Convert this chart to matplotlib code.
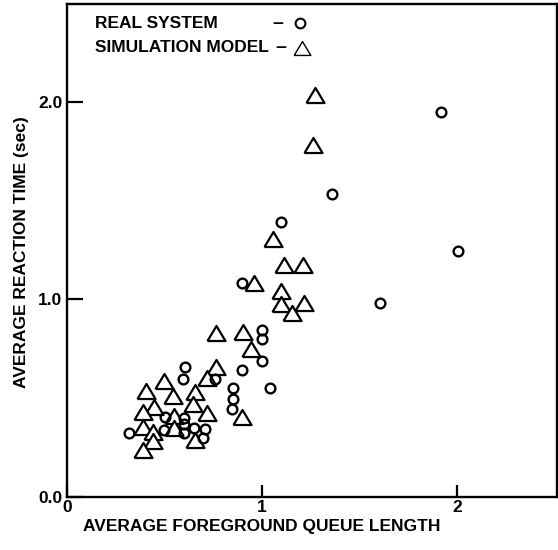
import matplotlib
matplotlib.use("Agg")
import matplotlib.pyplot as plt

# real system measurements (circles)
real_x = [1.918, 2.005, 1.359, 1.097, 1.605, 0.897, 1.000, 1.000, 1.000, 0.605,
          0.897, 0.595, 0.759, 1.041, 0.851, 0.851, 0.846, 0.503, 0.600, 0.600,
          0.318, 0.497, 0.600, 0.651, 0.708, 0.697]
real_y = [1.948, 1.245, 1.533, 1.392, 0.982, 1.083, 0.845, 0.800, 0.688, 0.658,
          0.643, 0.597, 0.597, 0.552, 0.552, 0.496, 0.445, 0.405, 0.400, 0.369,
          0.324, 0.339, 0.324, 0.349, 0.344, 0.299]

# simulation model (triangles)
sim_x = [1.272, 1.262, 1.056, 1.113, 1.210, 0.959, 1.097, 1.097, 1.215, 1.154,
         0.764, 0.903, 0.944, 0.764, 0.718, 0.897, 0.497, 0.405, 0.544, 0.656,
         0.646, 0.446, 0.390, 0.718, 0.549, 0.390, 0.441, 0.549, 0.656, 0.441,
         0.390]
sim_y = [2.034, 1.781, 1.306, 1.174, 1.174, 1.083, 1.043, 0.977, 0.982, 0.931,
         0.830, 0.835, 0.749, 0.658, 0.602, 0.405, 0.587, 0.536, 0.511, 0.531,
         0.471, 0.455, 0.430, 0.425, 0.410, 0.354, 0.329, 0.349, 0.288, 0.283,
         0.238]

x_ticks = [0, 1, 2]
x_tick_labels = ["0", "1", "2"]
y_ticks = [0.0, 1.0, 2.0]
y_tick_labels = ["0.0", "1.0", "2.0"]

plt.rcParams['font.family'] = ['Liberation Sans', 'DejaVu Sans']
plt.rcParams['font.weight'] = 'bold'
plt.rcParams['axes.labelweight'] = 'bold'

fig = plt.figure(figsize=(5.58, 5.5), dpi=100)
ax = fig.add_axes([67 / 558, 53 / 550, 490 / 558, 493 / 550])

# wide triangle outline like the original plot symbol
tri = [(-1.2, -1.0), (1.2, -1.0), (0.0, 1.0), (-1.2, -1.0)]

ax.plot(sim_x, sim_y, linestyle='none', marker=tri, ms=13, mfc='white',
        mec='black', mew=1.6)
ax.plot(real_x, real_y, linestyle='none', marker='o', ms=7, mfc='none',
        mec='black', mew=1.7)

ax.set_xlim(0, 2.513)
ax.set_ylim(0, 2.495)

ax.set_xticks(x_ticks)
ax.set_xticklabels(x_tick_labels)
ax.set_yticks(y_ticks)
ax.set_yticklabels(y_tick_labels)
ax.tick_params(axis='x', direction='in', length=8.5, width=1.6, pad=2, labelsize=12.5)
ax.tick_params(axis='y', direction='in', length=11.5, width=1.6, pad=3.5, labelsize=12.5)

for s in ax.spines.values():
    s.set_linewidth(1.7)

ax.set_xlabel("AVERAGE FOREGROUND QUEUE LENGTH", fontsize=12.5)
ax.xaxis.set_label_coords((262 - 67) / 490, -0.045)
ax.set_ylabel("AVERAGE REACTION TIME (sec)", fontsize=12.5)
ax.yaxis.set_label_coords(-0.078, 0.497)

# legend drawn as in the original (text, dash, symbol)
ax.text(0.057, 0.961, "REAL SYSTEM", transform=ax.transAxes, fontsize=12.5,
        ha='left', va='center')
ax.text(0.057, 0.911, "SIMULATION MODEL", transform=ax.transAxes, fontsize=12.5,
        ha='left', va='center')
ax.text(0.431, 0.961, "\u2013", transform=ax.transAxes, fontsize=14, ha='center', va='center')
ax.text(0.437, 0.911, "\u2013", transform=ax.transAxes, fontsize=14, ha='center', va='center')
ax.plot([0.476], [0.961], transform=ax.transAxes, marker='o', ms=7, mfc='none',
        mec='black', mew=1.5, clip_on=False)
ax.plot([0.480], [0.911], transform=ax.transAxes, marker=tri, ms=12, mfc='none',
        mec='black', mew=1.0, clip_on=False)

fig.savefig("out.png", dpi=100)
